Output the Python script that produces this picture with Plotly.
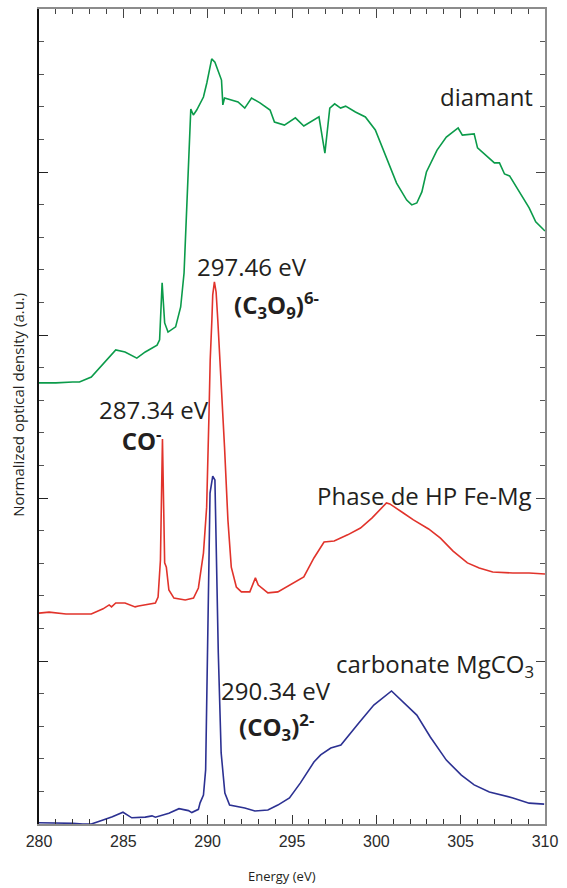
import plotly.graph_objects as go

# ---------------- data ----------------
diamant_E = [280.0, 281.0, 282.0, 282.4, 283.1, 283.6, 284.0, 284.55, 285.1, 285.8, 286.3, 287.0, 287.15,
             287.3, 287.45, 287.65, 288.1, 288.4, 288.6, 288.77, 288.9, 289.0, 289.15, 289.35, 289.75,
             289.95, 290.24, 290.43, 290.82, 290.9, 291.0, 291.8, 292.2, 292.6, 293.1, 293.7, 293.96,
             294.55, 295.2, 295.7, 296.6, 296.95, 297.24, 297.53, 297.88, 298.18, 298.76, 299.35, 299.94,
             300.6, 301.2, 301.8, 302.1, 302.4, 302.7, 302.97, 303.6, 304.15, 304.85, 305.1, 305.8, 306.0,
             306.5, 307.0, 307.3, 307.6, 307.9, 308.3, 309.06, 309.45, 310.0]
diamant_I = [1.353, 1.353, 1.356, 1.356, 1.371, 1.399, 1.423, 1.454, 1.448, 1.429, 1.448, 1.469, 1.485,
             1.660, 1.537, 1.509, 1.525, 1.586, 1.690, 1.893, 2.098, 2.193, 2.175, 2.190, 2.230,
             2.273, 2.347, 2.337, 2.282, 2.206, 2.227, 2.215, 2.196, 2.227, 2.212, 2.190, 2.153,
             2.144, 2.166, 2.141, 2.169, 2.058, 2.196, 2.209, 2.196, 2.202, 2.184, 2.169, 2.129,
             2.046, 1.966, 1.914, 1.899, 1.905, 1.939, 2.000, 2.067, 2.107, 2.135, 2.113, 2.117, 2.074,
             2.052, 2.028, 2.028, 1.994, 1.988, 1.954, 1.890, 1.847, 1.819]

hp_E = [280.0, 280.6, 281.6, 283.1, 283.8, 284.16, 284.3, 284.55, 285.1, 285.7, 285.9, 286.9, 287.06,
        287.2, 287.32, 287.42, 287.45, 287.55, 287.7, 288.0, 288.67, 289.16, 289.45, 289.75, 289.94,
        290.08, 290.15, 290.25, 290.3, 290.4, 290.5, 290.6, 290.7, 290.83, 291.0, 291.2, 291.4, 291.7,
        292.0, 292.5, 292.7, 292.83, 293.0, 293.57, 294.16, 294.75, 295.14, 295.7, 296.3, 296.9,
        297.5, 298.3, 299.06, 299.75, 300.6, 300.8, 301.6, 302.2, 303.1, 303.8, 304.55, 305.4,
        306.1, 306.9, 308.1, 309.06, 310.0]
hp_I = [0.647, 0.650, 0.644, 0.644, 0.660, 0.672, 0.666, 0.678, 0.678, 0.666, 0.669, 0.678, 0.696,
        0.810, 1.181, 0.840, 0.801, 0.788, 0.718, 0.693, 0.687, 0.693, 0.724, 0.831, 0.972,
        1.261, 1.423, 1.546, 1.623, 1.663, 1.632, 1.546, 1.454, 1.337, 1.156, 0.933, 0.788, 0.727,
        0.712, 0.712, 0.742, 0.755, 0.733, 0.709, 0.712, 0.730, 0.742, 0.758, 0.816, 0.865,
        0.868, 0.887, 0.908, 0.939, 0.985, 0.982, 0.954, 0.933, 0.905, 0.877, 0.837, 0.801,
        0.785, 0.773, 0.770, 0.770, 0.767]

mgco3_E = [280.0, 280.6, 281.5, 282.0, 282.6, 283.1, 283.8, 284.35, 284.98, 285.5, 286.3, 286.7, 286.9,
           287.7, 288.3, 288.86, 289.06, 289.45, 289.55, 289.75, 289.88, 290.0, 290.14, 290.3, 290.43,
           290.63, 290.8, 291.02, 291.3, 292.2, 292.8, 293.57, 294.16, 294.85, 295.5, 296.3, 296.7,
           297.3, 297.9, 298.96, 299.85, 300.9, 301.6, 302.4, 303.2, 304.15, 305.04, 305.8, 306.7,
           308.1, 309.06, 309.95]
mgco3_I = [0.004, 0.004, 0.003, 0.002, 0.0, 0.0, 0.012, 0.022, 0.036, 0.019, 0.021, 0.025, 0.021,
           0.033, 0.047, 0.041, 0.035, 0.045, 0.065, 0.089, 0.166, 0.525, 1.015, 1.067, 1.055,
           0.525, 0.218, 0.095, 0.058, 0.049, 0.040, 0.043, 0.058, 0.080, 0.126, 0.190, 0.212,
           0.233, 0.242, 0.310, 0.365, 0.408, 0.374, 0.334, 0.267, 0.196, 0.150, 0.120, 0.098,
           0.080, 0.064, 0.061]

x_ticks = [280, 285, 290, 295, 300, 305, 310]

# ---------------- figure ----------------
GREEN = "#0b9b4a"
RED = "#e1332b"
BLUE = "#2c3192"
TXT = "#231f20"

fig = go.Figure()
fig.add_trace(go.Scatter(x=diamant_E, y=diamant_I, mode="lines", line=dict(color=GREEN, width=1.6),
                         name="diamant"))
fig.add_trace(go.Scatter(x=hp_E, y=hp_I, mode="lines", line=dict(color=RED, width=1.6),
                         name="Phase de HP Fe-Mg"))
fig.add_trace(go.Scatter(x=mgco3_E, y=mgco3_I, mode="lines", line=dict(color=BLUE, width=1.6),
                         name="carbonate MgCO3"))
# invisible trace on secondary axes so they are drawn
fig.add_trace(go.Scatter(x=[280], y=[0], xaxis="x2", yaxis="y2", mode="lines",
                         line=dict(width=0), showlegend=False, hoverinfo="skip"))

AFONT = dict(family="Open Sans", size=24, color=TXT)
BFONT = dict(family="Open Sans", size=24, color=TXT, weight="bold")

ann = [
    dict(x=309.4, y=2.233, text="diamant", xanchor="right", yanchor="middle", font=AFONT),
    dict(x=292.6, y=1.709, text="297.46 eV", xanchor="center", yanchor="middle", font=AFONT),
    dict(x=291.45, y=1.592, text="<b>(C<sub>3</sub>O<sub>9</sub>)<sup>6-</sup></b>", xanchor="left",
         yanchor="middle", font=BFONT),
    dict(x=283.45, y=1.225,
         text="287.34 eV<br>&nbsp;&nbsp;&nbsp;&#8201;<b>CO<sup>-</sup></b>",
         xanchor="left", yanchor="middle", align="left", font=AFONT),
    dict(x=309.34, y=1.009, text="Phase de HP Fe-Mg", xanchor="right", yanchor="middle", font=AFONT),
    dict(x=309.45, y=0.488, text="carbonate MgCO<sub>3</sub>", xanchor="right", yanchor="middle", font=AFONT),
    dict(x=294.07, y=0.408, text="290.34 eV", xanchor="center", yanchor="middle", font=AFONT),
    dict(x=291.75, y=0.298, text="<b>(CO<sub>3</sub>)<sup>2-</sup></b>", xanchor="left", yanchor="middle",
         font=BFONT),
]
annotations = [dict(a, xref="x", yref="y", showarrow=False) for a in ann]
annotations.append(dict(x=294.42, y=-0.064, xref="x", yref="paper", text="Energy (eV)", showarrow=False,
                        xanchor="center", yanchor="middle",
                        font=dict(family="Open Sans", size=13, color=TXT)))
annotations.append(dict(x=-0.042, y=0.514, xref="paper", yref="paper", text="Normalized optical density (a.u.)",
                        textangle=-90, showarrow=False, xanchor="center", yanchor="middle",
                        font=dict(family="Open Sans", size=15, color=TXT)))

GRAY = "#8c8c8c"
fig.update_layout(
    width=567, height=888,
    margin=dict(l=39, r=18, t=9, b=64),
    paper_bgcolor="white", plot_bgcolor="white",
    showlegend=False,
    annotations=annotations,
    xaxis=dict(range=[280, 310], tickvals=x_ticks, ticks="inside", ticklen=9, tickcolor="#333",
               tickwidth=1.2, showline=True, linecolor=GRAY, linewidth=2, showgrid=False, zeroline=False,
               tickfont=dict(family="Liberation Sans", size=16, color="#2a2a2a"),
               minor=dict(dtick=1, ticks="inside", ticklen=5, tickcolor="#333", tickwidth=1),
               ticklabelstandoff=2),
    xaxis2=dict(range=[280, 310], overlaying="x", side="top", tickvals=x_ticks, ticks="inside",
                ticklen=9, tickcolor="#444", showline=True, linecolor=GRAY, linewidth=1.5,
                showticklabels=False, showgrid=False, zeroline=False,
                minor=dict(dtick=1, ticks="inside", ticklen=5, tickcolor="#444")),
    yaxis=dict(range=[0, 2.5], dtick=0.5, ticks="inside", ticklen=9, tickcolor="#222", showline=True,
               linecolor="#111", linewidth=1.5, showticklabels=False, showgrid=False, zeroline=False,
               minor=dict(dtick=0.1, ticks="inside", ticklen=5, tickcolor="#555")),
    yaxis2=dict(range=[0, 2.5], overlaying="y", side="right", dtick=0.5, ticks="inside", ticklen=9,
                tickcolor="#444", showline=True, linecolor=GRAY, linewidth=1.5, showticklabels=False,
                showgrid=False, zeroline=False,
                minor=dict(dtick=0.1, ticks="inside", ticklen=5, tickcolor="#555")),
)

fig.write_html("out.html", config={"displayModeBar": False},
               post_script="document.body.style.margin='0';document.body.style.overflow='hidden';")
